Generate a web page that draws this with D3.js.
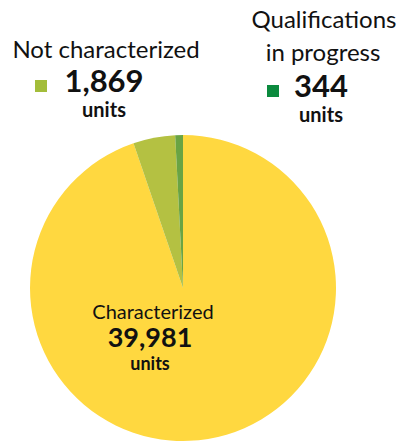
<!DOCTYPE html>
<html>
<head>
<meta charset="utf-8">
<script src="https://cdn.jsdelivr.net/npm/d3@7"></script>
<style>
  body { margin: 0; background: #fff; }
  text { font-family: Lato, "Open Sans", sans-serif; fill: #111; }
</style>
</head>
<body>
<svg width="401" height="442"></svg>
<script>
// data
let categories = ["Characterized", "Not characterized", "Qualifications in progress"];
let values = [39981, 1869, 344];
let sliceColors = ["#ffd840", "#b4c142", "#6aa443"];
let keyColors = [null, "#a3bd3a", "#0b8a3e"];

let svg = d3.select("svg"),
  cx = 183, cy = 288, radius = 153;

let pie = d3.pie().sort(null).value(function(d) { return d; })
  .startAngle(0).endAngle(2 * Math.PI);
let arc = d3.arc().innerRadius(0).outerRadius(radius);

let g = svg.append("g")
  .attr("transform", "translate(" + cx + "," + cy + ")");

g.selectAll("path")
  .data(pie(values))
  .enter().append("path")
  .attr("d", arc)
  .attr("fill", function(d, i) { return sliceColors[i]; });

let fmt = d3.format(",");

// Characterized label inside the pie
let lab = svg.append("g").attr("text-anchor", "middle");
lab.append("text").attr("x", 153).attr("y", 319)
  .style("font-size", "20px").text(categories[0]);
lab.append("text").attr("x", 150).attr("y", 347)
  .style("font-size", "27px").style("font-weight", "bold").text(fmt(values[0]));
lab.append("text").attr("x", 150).attr("y", 370)
  .style("font-size", "18px").style("font-weight", "bold").text("units");

// Not characterized
let nc = svg.append("g").attr("text-anchor", "middle");
nc.append("text").attr("x", 106).attr("y", 58)
  .style("font-size", "24px").text(categories[1]);
nc.append("rect").attr("x", 35).attr("y", 80).attr("width", 12).attr("height", 12)
  .attr("fill", keyColors[1]);
nc.append("text").attr("x", 104).attr("y", 92)
  .style("font-size", "31px").style("font-weight", "bold").text(fmt(values[1]));
nc.append("text").attr("x", 104).attr("y", 117)
  .style("font-size", "20px").style("font-weight", "bold").text("units");

// Qualifications in progress
let qp = svg.append("g").attr("text-anchor", "middle");
qp.append("text").attr("x", 324).attr("y", 28)
  .style("font-size", "24px").text("Qualifications");
qp.append("text").attr("x", 323).attr("y", 61)
  .style("font-size", "24px").text("in progress");
qp.append("rect").attr("x", 267).attr("y", 85).attr("width", 12).attr("height", 12)
  .attr("fill", keyColors[2]);
qp.append("text").attr("x", 321).attr("y", 97)
  .style("font-size", "31px").style("font-weight", "bold").text(fmt(values[2]));
qp.append("text").attr("x", 321).attr("y", 122)
  .style("font-size", "20px").style("font-weight", "bold").text("units");
</script>
</body>
</html>
